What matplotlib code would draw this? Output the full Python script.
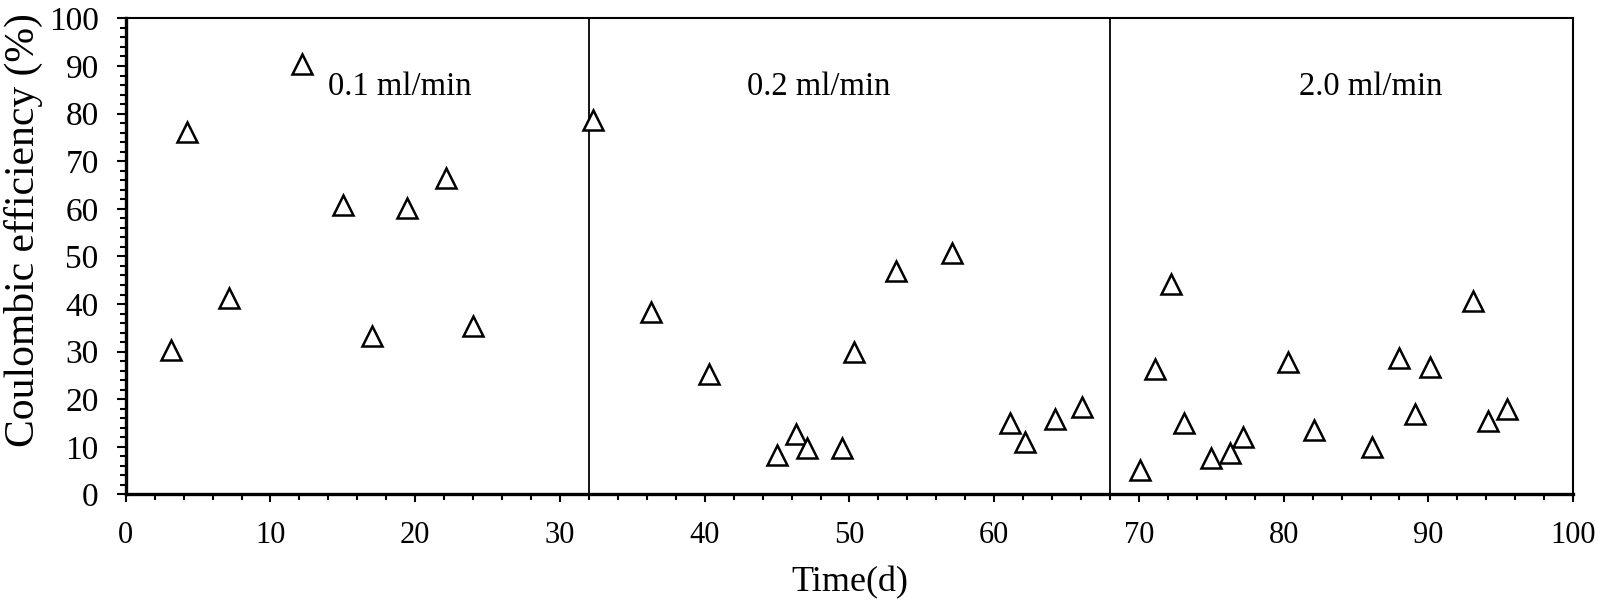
import matplotlib
matplotlib.use('Agg')
import matplotlib.pyplot as plt
from matplotlib.ticker import MultipleLocator

plt.rcParams['font.family'] = ['Liberation Serif', 'DejaVu Serif']

# ── data ─────────────────────────────────────────────────────────────────────
time_d = [3.1, 4.2, 7.1, 12.2, 15.0, 17.0, 19.4, 22.1, 24.0,
          32.3, 36.3, 40.3, 45.0, 46.3, 47.1, 49.5, 50.3, 53.2, 57.1,
          61.1, 62.1, 64.2, 66.1,
          70.1, 71.1, 72.2, 73.1, 75.0, 76.3, 77.2, 80.3, 82.1, 86.1,
          88.0, 89.1, 90.1, 93.1, 94.1, 95.4]
ce_pct = [30.3, 76.1, 41.2, 90.4, 60.8, 33.2, 60.2, 66.5, 35.4,
          78.6, 38.3, 25.2, 8.3, 12.7, 9.7, 9.7, 29.9, 47.0, 50.7,
          15.0, 11.0, 15.8, 18.4,
          5.1, 26.4, 44.2, 15.0, 7.7, 8.7, 12.0, 27.8, 13.5, 10.0,
          28.7, 17.0, 26.8, 40.6, 15.5, 18.0]

phase_breaks = [32, 68]
phase_labels = ['0.1 ml/min', '0.2 ml/min', '2.0 ml/min']
label_x      = [18.9, 47.9, 86.0]
label_y      = 84

# ── plot ─────────────────────────────────────────────────────────────────────
fig = plt.figure(figsize=(16.02, 6.03), dpi=100)
ax = fig.add_axes([0.0785, 0.180, 0.9035, 0.7895])

ax.plot(time_d, ce_pct, ls='none', marker='^', ms=14.5, mfc='white',
        mec='black', mew=1.8, zorder=3)

for xb in phase_breaks:
    ax.axvline(xb, color='black', lw=1.3, zorder=2)

for txt, lx in zip(phase_labels, label_x):
    ax.text(lx, label_y, txt, ha='center', va='baseline', fontsize=23.5)

ax.set_xlim(0, 100)
ax.set_ylim(0, 100)
ax.xaxis.set_major_locator(MultipleLocator(10))
ax.xaxis.set_minor_locator(MultipleLocator(2))
ax.yaxis.set_major_locator(MultipleLocator(10))
ax.yaxis.set_minor_locator(MultipleLocator(2))

ax.tick_params(axis='x', which='major', direction='out', length=6,
               width=1.5, labelsize=22, pad=13)
ax.tick_params(axis='y', which='major', direction='out', length=6.5,
               width=1.5, labelsize=24, pad=13)
ax.tick_params(axis='both', which='minor', direction='out', length=4.5,
               width=1.5)

for side in ['top', 'right']:
    ax.spines[side].set_linewidth(1.5)
for side in ['bottom', 'left']:
    ax.spines[side].set_linewidth(2.4)

ax.set_xlabel('Time(d)', fontsize=26, labelpad=12)
fig.text(23 / 1602, 1 - 230 / 603, 'Coulombic efficiency (%)',
         rotation=90, ha='center', va='center', fontsize=30)

plt.savefig('out.png', dpi=100)
plt.close()
